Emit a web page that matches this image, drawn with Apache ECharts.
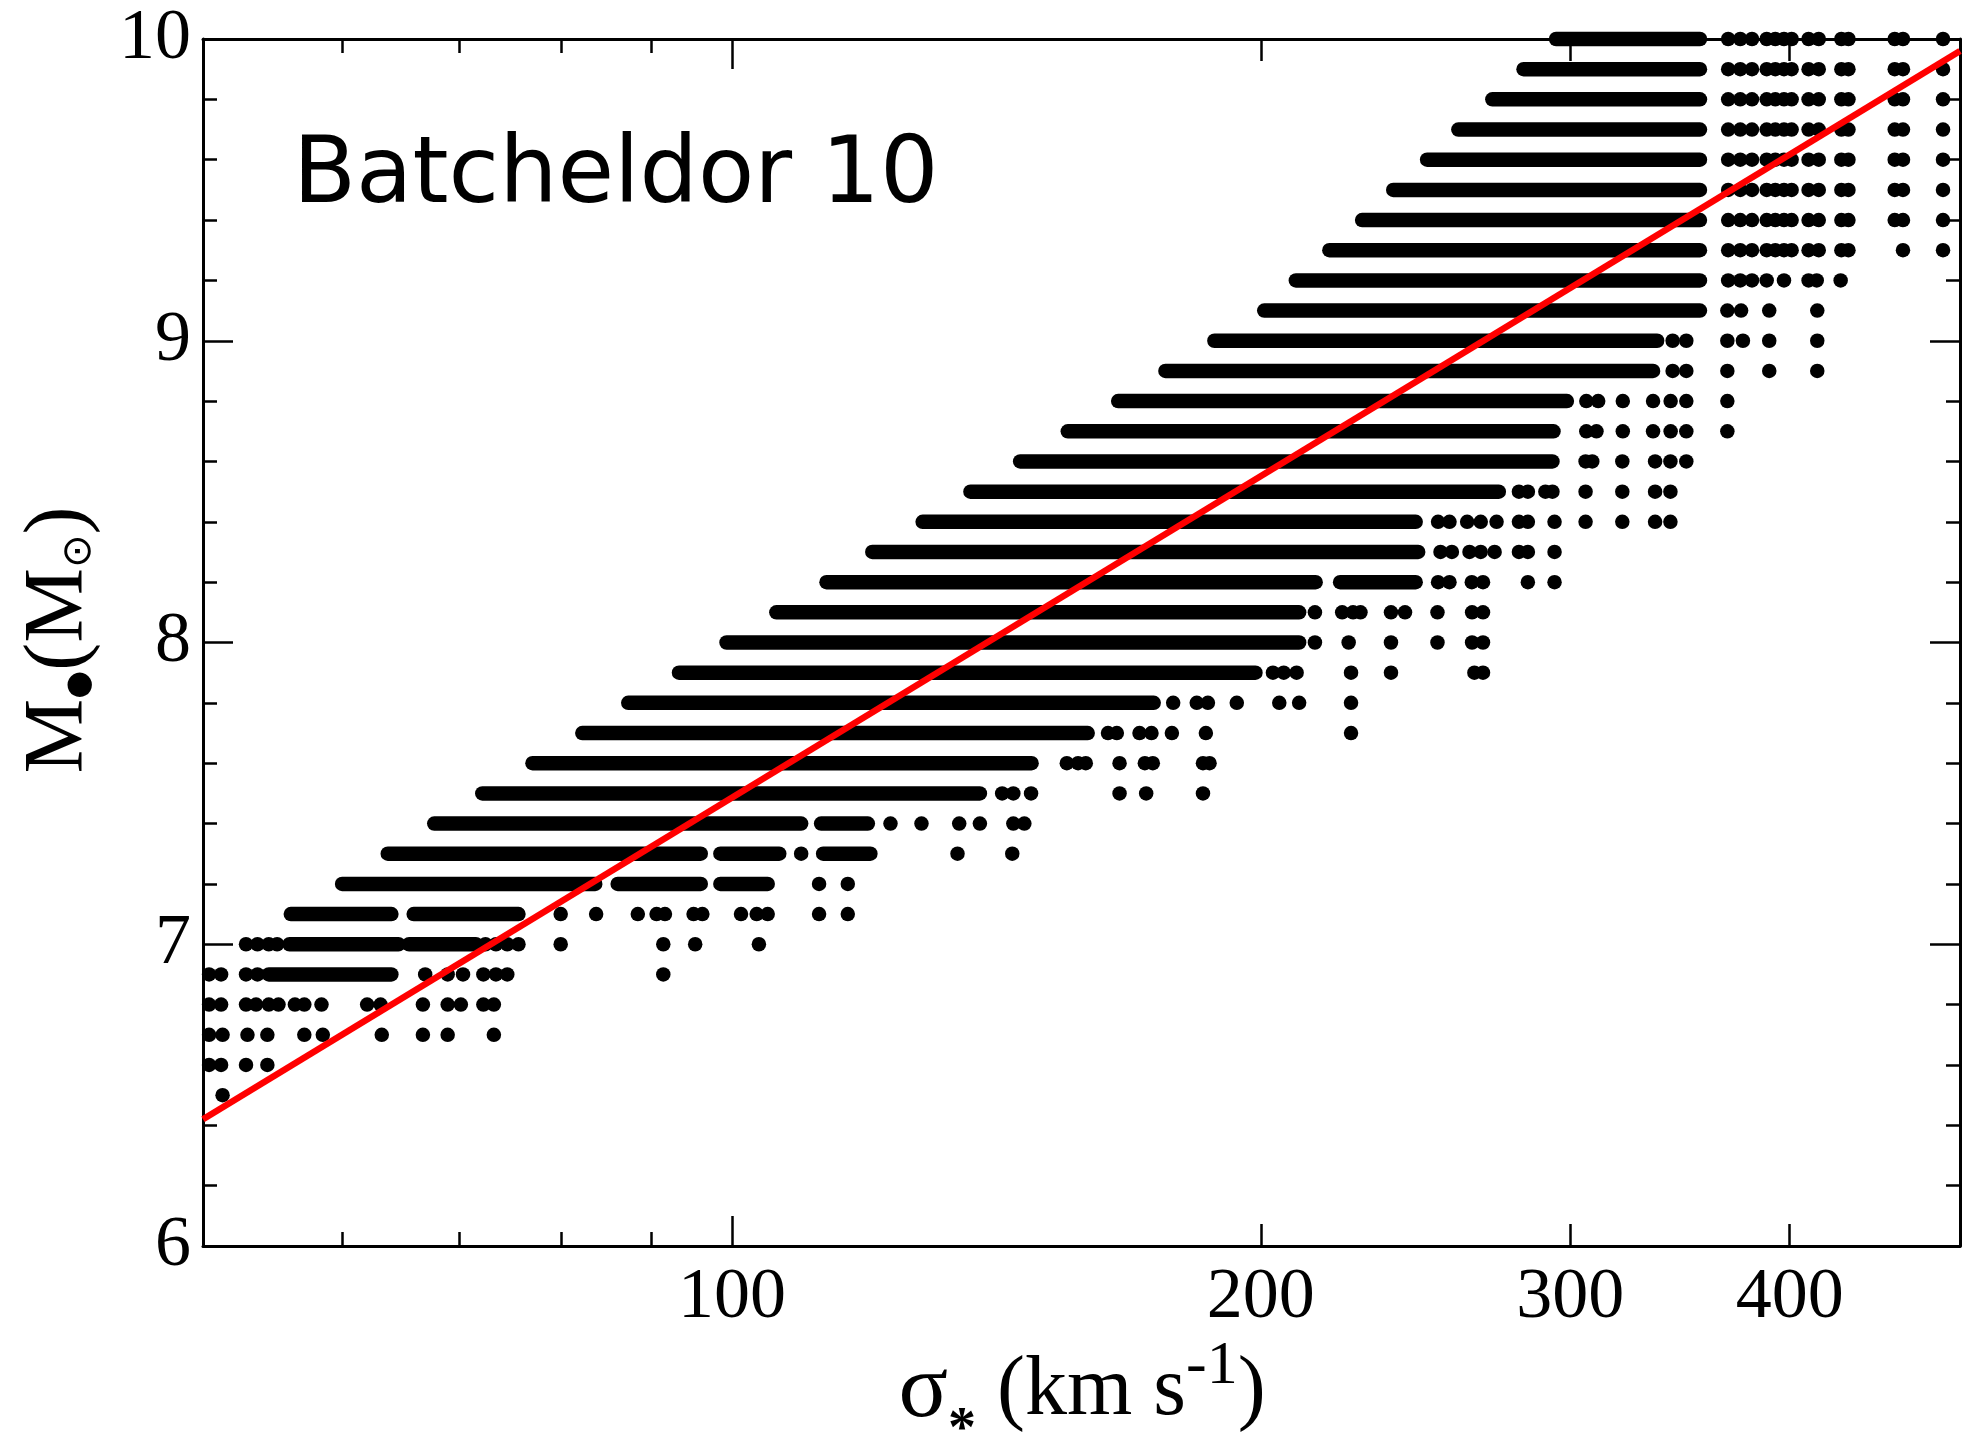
<!DOCTYPE html>
<html>
<head>
<meta charset="utf-8">
<script src="https://cdn.jsdelivr.net/npm/echarts@6.0.0/dist/echarts.min.js"></script>
<style>
  html, body { margin: 0; padding: 0; background: #ffffff; }
  #chart { width: 1963px; height: 1439px; }
</style>
</head>
<body>
<div id="chart"></div>
<script>
// log10 black-hole mass levels (one row of points per level)
const massLevels = [
  6.5, 6.6, 6.7, 6.8, 6.9, 7.0, 7.1, 7.2, 7.3, 7.4, 7.5, 7.6,
  7.7, 7.8, 7.9, 8.0, 8.1, 8.2, 8.3, 8.4, 8.5, 8.6, 8.7, 8.8,
  8.9, 9.0, 9.1, 9.2, 9.3, 9.4, 9.5, 9.6, 9.7, 9.8, 9.9, 10.0
];

// continuous runs of closely packed points, [sigma from, sigma to] in km/s
const denseRuns = [
  [], [], [], [],
  [[54.5, 64.0]],
  [[56.0, 64.6], [65.5, 71.5]],
  [[56.1, 64.0], [65.9, 75.6]],
  [[60.0, 83.6], [86.1, 96.0], [98.5, 104.8]],
  [[63.7, 96.0], [98.5, 106.4], [112.7, 119.9]],
  [[67.7, 109.5], [112.4, 119.5]],
  [[72.1, 138.4]],
  [[77.0, 148.1]],
  [[82.2, 159.4]],
  [[87.3, 173.8]],
  [[93.3, 198.6]],
  [[99.3, 210.3]],
  [[106.0, 210.3]],
  [[113.2, 214.9], [221.9, 245.0]],
  [[120.2, 245.8]],
  [[128.4, 245.0]],
  [[136.7, 273.2]],
  [[145.9, 293.1]],
  [[155.3, 293.5]],
  [[165.9, 298.7]],
  [[176.5, 334.4]],
  [[188.2, 336.2]],
  [[200.9, 355.6]],
  [[209.4, 355.6]],
  [[218.8, 355.6]],
  [[228.4, 355.6]],
  [[237.9, 355.6]],
  [[248.7, 355.6]],
  [[259.1, 355.6]],
  [[270.9, 355.6]],
  [[282.2, 355.6]],
  [[294.5, 355.6]]
];

// isolated points, sigma in km/s, per mass level
const topColumns = [369.0, 374.9, 380.7, 388.1, 392.5, 397.0, 401.0, 410.0, 415.5, 428.0, 432.0, 459.0, 464.0, 489.0];
const sparseSigma = [
  [51.3],
  [50.4, 51.2, 52.9, 54.4],
  [50.4, 51.3, 53.0, 54.4, 57.1, 58.5, 63.2, 66.7, 68.9, 73.2],
  [50.4, 51.2, 52.9, 53.6, 54.5, 55.2, 56.4, 57.1, 58.4, 62.0, 63.1, 66.7, 68.9, 70.1, 72.2, 73.2],
  [50.4, 51.2, 52.9, 53.7, 66.9, 68.9, 70.3, 72.2, 73.4, 74.5, 91.4],
  [52.9, 53.7, 54.5, 55.1, 72.4, 73.4, 74.5, 75.6, 79.9, 91.4, 95.3, 103.6],
  [79.9, 83.7, 88.4, 90.6, 91.6, 95.1, 96.2, 101.2, 103.3, 104.8, 112.1, 116.4],
  [112.1, 116.4],
  [109.5, 134.4, 144.4],
  [123.1, 128.2, 134.7, 138.4, 144.6, 146.7],
  [142.5, 144.6, 148.0, 166.2, 172.1, 185.4],
  [155.1, 157.4, 159.0, 166.2, 171.8, 173.6, 185.4, 187.0],
  [163.7, 165.6, 170.6, 173.3, 178.0, 186.1, 225.1],
  [178.3, 183.9, 186.6, 193.8, 204.9, 210.3, 225.1],
  [203.2, 206.1, 209.6, 225.1, 237.2, 264.6, 267.6],
  [214.7, 224.4, 237.2, 252.1, 263.8, 267.6],
  [214.7, 222.5, 225.7, 227.9, 237.2, 241.6, 252.1, 263.8, 267.6],
  [252.3, 256.1, 263.7, 267.6, 283.8, 293.9],
  [253.1, 256.9, 262.9, 266.8, 271.7, 280.5, 283.8, 293.9],
  [252.3, 256.1, 262.1, 266.8, 272.4, 280.5, 283.8, 293.9, 306.1, 321.2, 335.3, 342.1],
  [280.5, 283.8, 290.4, 293.1, 306.1, 321.2, 335.3, 342.1],
  [306.1, 308.8, 321.2, 335.3, 342.1, 349.3],
  [306.4, 310.5, 321.4, 334.4, 342.2, 349.3, 368.6],
  [306.4, 311.2, 321.4, 334.4, 342.2, 349.3, 368.6],
  [343.1, 349.3, 368.6, 389.4, 414.7],
  [343.1, 349.3, 368.6, 376.2, 389.4, 414.7],
  [368.6, 375.3, 389.4, 414.7],
  [369.0, 374.9, 380.7, 388.1, 397.0, 410.0, 414.4, 427.6],
  [369.0, 374.9, 380.7, 388.1, 392.5, 397.0, 401.0, 410.0, 415.5, 428.0, 432.0, 464.0, 489.0],
  topColumns, topColumns, topColumns, topColumns, topColumns, topColumns, topColumns
];

// fitted relation, end points across the plotted sigma range
const fitSigma = [50, 500];
const fitMass = [6.42, 9.96];

// axis ticks
const xLabelTicks = [100, 200, 300, 400];
const xMajorTicks = [100];
const xMidTicks = [200, 300, 400];
const xMinorTicks = [60, 70, 80, 90];
const yRange = [6, 10];

const DOT = 14.5;
const SERIF = '"Liberation Serif", "Times New Roman", serif';

const runData = [];
const dotData = [];
massLevels.forEach(function (m, i) {
  denseRuns[i].forEach(function (r) { runData.push([r[0], r[1], m]); });
  sparseSigma[i].forEach(function (s) { dotData.push([s, m]); });
});
const fitData = fitSigma.map(function (s, i) { return [s, fitMass[i]]; });

function xAxisDef(position, ticks, len, withLine, withLabels) {
  return {
    type: 'log', logBase: 10, min: 50, max: 500, position: position,
    axisLine: { show: withLine, onZero: false, lineStyle: { color: '#000', width: 3 } },
    axisTick: { show: true, inside: true, length: len, customValues: ticks,
      lineStyle: { color: '#000', width: 2.5 } },
    axisLabel: withLabels ? {
      show: true, customValues: xLabelTicks, margin: 16,
      color: '#000', fontFamily: SERIF, fontSize: 72
    } : { show: false },
    splitLine: { show: false }, minorTick: { show: false }
  };
}
function yAxisDef(position, withLabels) {
  return {
    type: 'value', min: yRange[0], max: yRange[1], interval: 1, position: position,
    axisLine: { show: true, onZero: false, lineStyle: { color: '#000', width: 3 } },
    axisTick: { show: true, inside: true, length: 30, lineStyle: { color: '#000', width: 2.5 } },
    minorTick: { show: true, splitNumber: 5, length: 14, lineStyle: { color: '#000', width: 2.5 } },
    axisLabel: withLabels ? { show: true, margin: 12, color: '#000', fontFamily: SERIF, fontSize: 72 } : { show: false },
    splitLine: { show: false }
  };
}

const chart = echarts.init(document.getElementById('chart'), null, { renderer: 'canvas' });
chart.setOption({
  animation: false,
  backgroundColor: '#ffffff',
  grid: { left: 203, right: 3, top: 39, bottom: 193, containLabel: false },
  xAxis: [
    xAxisDef('bottom', xMajorTicks, 30, true, true),
    xAxisDef('bottom', xMidTicks, 22, false, false),
    xAxisDef('bottom', xMinorTicks, 14, false, false),
    xAxisDef('top', xMajorTicks, 30, true, false),
    xAxisDef('top', xMidTicks, 22, false, false),
    xAxisDef('top', xMinorTicks, 14, false, false)
  ],
  yAxis: [yAxisDef('left', true), yAxisDef('right', false)],
  series: [
    {
      type: 'custom', xAxisIndex: 0, yAxisIndex: 0,
      data: runData, encode: { x: [0, 1], y: 2 },
      renderItem: function (params, api) {
        const a = api.coord([api.value(0), api.value(2)]);
        const b = api.coord([api.value(1), api.value(2)]);
        return {
          type: 'line',
          shape: { x1: a[0], y1: a[1], x2: b[0], y2: b[1] },
          style: { stroke: '#000', lineWidth: DOT, lineCap: 'round' }
        };
      },
      z: 2
    },
    {
      type: 'scatter', xAxisIndex: 0, yAxisIndex: 0,
      data: dotData, symbol: 'circle', symbolSize: DOT,
      itemStyle: { color: '#000', opacity: 1 }, z: 2
    },
    {
      type: 'line', xAxisIndex: 0, yAxisIndex: 0,
      data: fitData, symbol: 'none',
      lineStyle: { color: '#ff0000', width: 6.5 }, z: 5
    }
  ],
  graphic: [
    {
      type: 'text', x: 293, y: 178, z: 10,
      style: { text: 'Batcheldor 10', font: '92px "DejaVu Sans"', fill: '#000',
        textAlign: 'left', textVerticalAlign: 'middle' }
    },
    {
      type: 'text', x: 1082, y: 1392, z: 10,
      style: {
        text: '{g|σ}{sub|*}{m| (km s}{sup|-1}{m|)}',
        textAlign: 'center', textVerticalAlign: 'middle', fill: '#000',
        rich: {
          g: { fontFamily: SERIF, fontSize: 92, lineHeight: 100 },
          m: { fontFamily: SERIF, fontSize: 84, lineHeight: 100 },
          sub: { fontFamily: SERIF, fontWeight: 'bold', fontSize: 56, lineHeight: 10, padding: [80, 0, 0, 0] },
          sup: { fontFamily: SERIF, fontSize: 62, lineHeight: 10, padding: [0, 0, 50, 0] }
        }
      }
    },
    {
      type: 'text', x: 60, y: 640, rotation: Math.PI / 2, z: 10,
      style: {
        text: '{m|M}{bul|●}{m|(M}{sun|⊙}{m|)}',
        textAlign: 'center', textVerticalAlign: 'middle', fill: '#000',
        rich: {
          m: { fontFamily: SERIF, fontSize: 84, lineHeight: 100 },
          bul: { fontFamily: '"DejaVu Sans"', fontSize: 32, lineHeight: 10, padding: [40, 0, 0, 0] },
          sun: { fontFamily: '"DejaVu Sans"', fontSize: 40, lineHeight: 10, padding: [40, 0, 0, 0] }
        }
      }
    }
  ]
});
</script>
</body>
</html>
